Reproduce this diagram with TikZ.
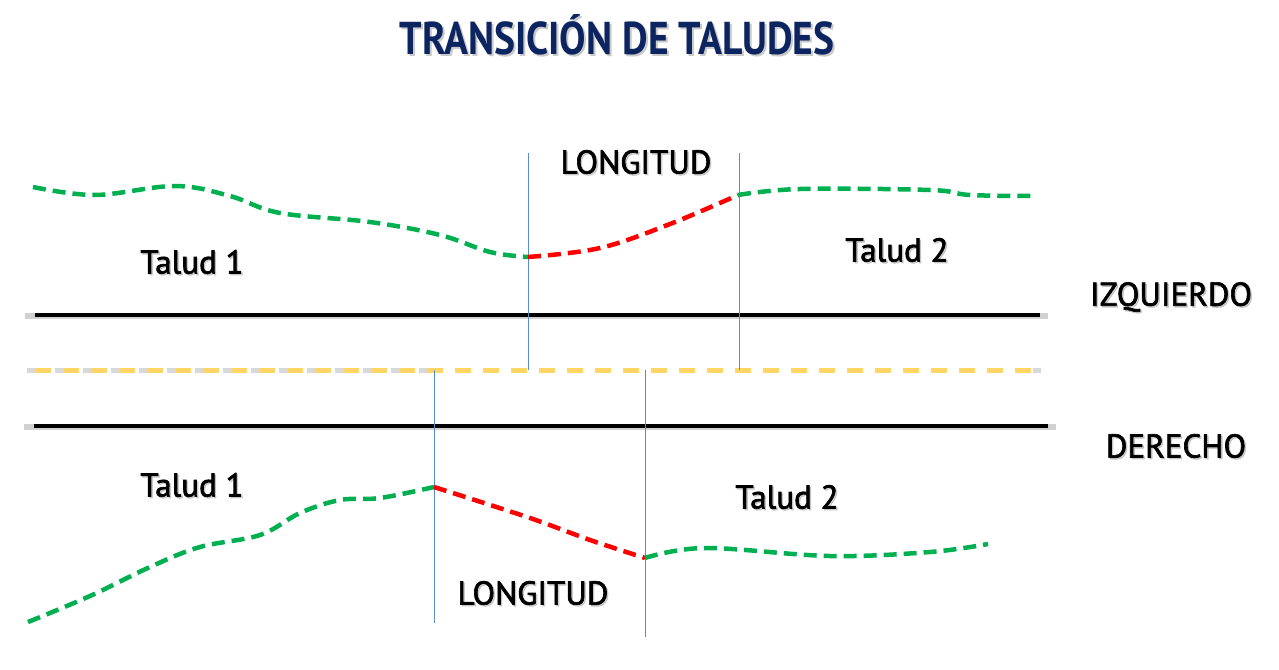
\documentclass[tikz,border=0pt]{standalone}
\usepackage{fontspec}
\setmainfont[FakeBold=2]{PT Sans}
\newfontfamily\titlefont[FakeStretch=0.86]{PT Sans}
\usetikzlibrary{positioning}
\definecolor{navy}{RGB}{12,36,96}
\definecolor{lgreen}{RGB}{0,176,80}
\definecolor{lred}{RGB}{255,0,0}
\definecolor{gold}{RGB}{255,214,102}
\definecolor{guide}{RGB}{90,140,200}
\tikzset{
  lbl/.style={font=\fontsize{33}{36}\selectfont, text=black, inner sep=0pt},
  lblshadow/.style={font=\fontsize{33}{36}\selectfont, text=black!40, opacity=0.45, inner sep=0pt},
  green dash/.style={lgreen, line width=4.5pt, dash pattern=on 13pt off 7pt},
  red dash/.style={lred, line width=4.5pt, dash pattern=on 13pt off 7pt},
  guideline/.style={guide, line width=1pt},
  roadedge/.style={black, line width=4pt},
  roadshadow/.style={black!30, line width=6pt, opacity=0.6},
  centerline/.style={gold, line width=5pt, dash pattern=on 16pt off 12pt},
}
\begin{document}
\begin{tikzpicture}[x=1pt,y=-1pt]
\useasboundingbox (0,0) rectangle (1279,669);
% title
\node[font=\titlefont\bfseries\fontsize{46}{50}\selectfont, text=black!35, opacity=0.6] at (619,37) {TRANSICIÓN DE TALUDES};
\node[font=\titlefont\bfseries\fontsize{46}{50}\selectfont, text=navy] (title) at (617,35) {TRANSICIÓN DE TALUDES};

% road edges
\coordinate (lu) at (35,315); \coordinate (ru) at (1040,315);
\coordinate (ll) at (34,426); \coordinate (rl) at (1048,426);
\coordinate (lc) at (35,370); \coordinate (rc) at (1035,370);
\coordinate (mc) at (455,370);
\draw[roadshadow] ([xshift=-10pt,yshift=-1pt]lu) -- ([xshift=8pt,yshift=-1pt]ru);
\draw[roadshadow] ([xshift=-10pt,yshift=-1pt]ll) -- ([xshift=8pt,yshift=-1pt]rl);
\draw[black!30, line width=5pt, opacity=0.5, dash pattern=on 16pt off 12pt] ([xshift=-8pt]lc) -- ([xshift=-8pt]mc);
\draw[black!30, line width=5pt, opacity=0.5] ([xshift=-2pt]rc) -- ([xshift=6pt]rc);
\draw[roadedge] (lu) -- (ru);
\draw[roadedge] (ll) -- (rl);
\draw[centerline] (lc) -- (rc);

% guide lines
\coordinate (g1t) at (528,153); \coordinate (g1b) at (528,370);
\coordinate (g2t) at (739,153); \coordinate (g2b) at (739,370);
\coordinate (g3t) at (434,370); \coordinate (g3b) at (434,623);
\coordinate (g4t) at (645,370); \coordinate (g4b) at (645,637);
\draw[guideline] (g1t) -- (g1b);
\draw[guideline] (g2t) -- (g2b);
\draw[guideline] (g3t) -- (g3b);
\draw[guideline] (g4t) -- (g4b);

% upper slope line
\draw[green dash] plot[smooth, tension=0.6] coordinates {(33,187) (95,195) (175,186) (230,196) (280,213) (370,222) (440,235) (490,252) (528,257)};
\draw[red dash] plot[smooth, tension=0.6] coordinates {(528,257) (600,248) (670,224) (738,195)};
\draw[green dash] plot[smooth, tension=0.6] coordinates {(738,195) (800,189) (930,190) (970,195) (1035,196)};

% lower slope line
\draw[green dash] plot[smooth, tension=0.6] coordinates {(28,622) (90,596) (150,567) (200,547) (260,535) (300,513) (340,500) (380,498) (434,487)};
\draw[red dash] plot[smooth, tension=0.5] coordinates {(434,487) (530,518) (590,540) (645,558)};
\draw[green dash] plot[smooth, tension=0.6] coordinates {(645,558) (705,548) (830,556) (930,552) (988,544)};

% labels
\foreach \nm/\px/\py/\tx in {lonu/636/162/LONGITUD, t1u/192/262/Talud 1, t2u/897/250/Talud 2, izq/1171/297/IZQUIERDO, der/1176/446/DERECHO, t1l/192/485/Talud 1, t2l/787/497/Talud 2, lonl/533/593/LONGITUD}{
  \node[lblshadow] at (\px+1.5,\py+1.5) {\tx};
  \node[lbl] (\nm) at (\px,\py) {\tx};
}
\end{tikzpicture}
\end{document}
